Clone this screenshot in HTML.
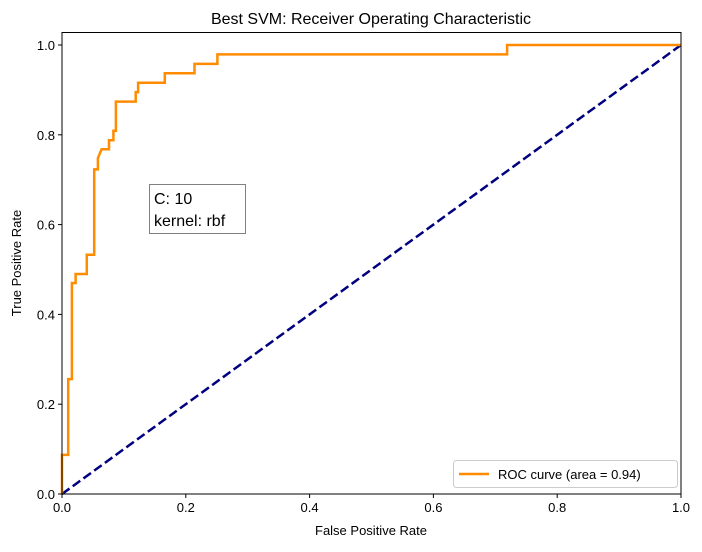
<!DOCTYPE html>
<html><head><meta charset="utf-8"><style>
body{margin:0;background:#fff;}
svg text{font-family:"Liberation Sans","DejaVu Sans",sans-serif;}
</style></head><body>
<svg id="chart" width="702" height="547" xmlns="http://www.w3.org/2000/svg">
<rect width="702" height="547" fill="#fff"/>
<text x="371" y="24" text-anchor="middle" font-size="16">Best SVM: Receiver Operating Characteristic</text>
<g id="plot"></g>
<text x="371" y="535" text-anchor="middle" font-size="13">False Positive Rate</text>
<text transform="translate(21,263) rotate(-90)" text-anchor="middle" font-size="13">True Positive Rate</text>
<g>
<rect x="149.5" y="184.5" width="96" height="49" fill="#fff" stroke="#808080"/>
<text x="154" y="204" font-size="16">C: 10</text>
<text x="154" y="226" font-size="16">kernel: rbf</text>
</g>
<g>
<rect x="453.5" y="460.5" width="224" height="27" rx="3" fill="#fff" stroke="#ccc"/>
<line x1="459" y1="474" x2="489" y2="474" stroke="#ff8c00" stroke-width="2.5"/>
<text x="498" y="479" font-size="13">ROC curve (area = 0.94)</text>
</g>
</svg>
<script>
const fprValues=[0,0,0.010,0.010,0.016,0.016,0.022,0.022,0.040,0.040,0.052,0.052,0.058,0.058,0.064,0.076,0.076,0.083,0.083,0.087,0.087,0.119,0.119,0.123,0.123,0.166,0.166,0.214,0.214,0.251,0.251,0.719,0.719,1.0];
const tprValues=[0,0.087,0.087,0.256,0.256,0.470,0.470,0.490,0.490,0.533,0.533,0.723,0.723,0.748,0.768,0.768,0.788,0.788,0.809,0.809,0.874,0.874,0.895,0.895,0.916,0.916,0.937,0.937,0.958,0.958,0.979,0.979,1.0,1.0];
const xTicks=["0.0","0.2","0.4","0.6","0.8","1.0"];
const yTicks=["0.0","0.2","0.4","0.6","0.8","1.0"];
const L=62,R=681,B=494,T=32.5;
const xs=v=>L+(R-L)*v;
const ys=v=>B-449*v;
const ns="http://www.w3.org/2000/svg";
const g=document.getElementById('plot');
function mk(t,a){const e=document.createElementNS(ns,t);for(const k in a)e.setAttribute(k,a[k]);g.appendChild(e);return e;}
const diag=mk('line',{x1:xs(0),y1:ys(0),x2:xs(1),y2:ys(1),stroke:'#000080','stroke-width':2.5,'stroke-dasharray':'9.25,4'});


const pts=fprValues.map((f,i)=>xs(f).toFixed(1)+','+ys(tprValues[i]).toFixed(1)).join(' ');
const roc=mk('polyline',{points:pts,fill:'none',stroke:'#ff8c00','stroke-width':2.5,'stroke-linejoin':'miter'});


const frame=mk('rect',{x:L,y:T,width:R-L,height:B-T,fill:'none',stroke:'#000','stroke-width':1});


xTicks.forEach(t=>{const x=xs(parseFloat(t));
 const tk=mk('line',{x1:x,y1:B,x2:x,y2:B+4,stroke:'#000'});
 
 
 const tx=mk('text',{x:x,y:B+18,'text-anchor':'middle','font-size':13});tx.textContent=t;
 
 });
yTicks.forEach(t=>{const y=ys(parseFloat(t));
 const tk=mk('line',{x1:L-4,y1:y,x2:L,y2:y,stroke:'#000'});
 
 
 const tx=mk('text',{x:L-7,y:y+5,'text-anchor':'end','font-size':13});tx.textContent=t;
 
 });
</script>
</body></html>
